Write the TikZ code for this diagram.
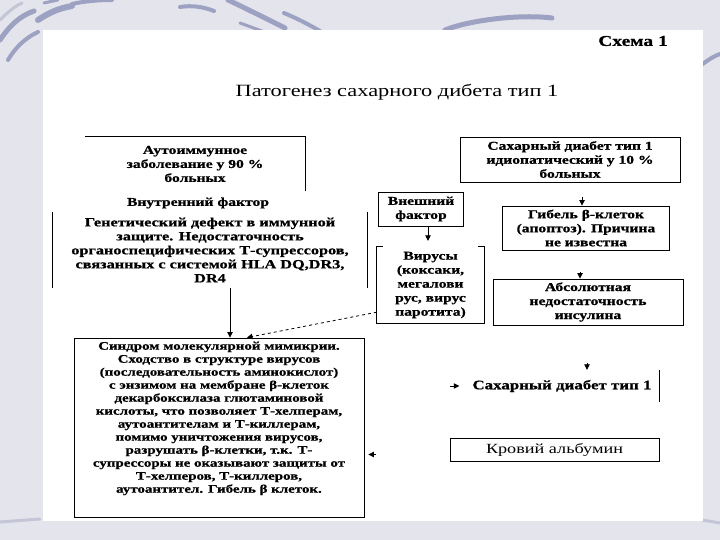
\documentclass[tikz,border=0pt]{standalone}
\usepackage{fontspec}
\newfontfamily\scanfont{Liberation Serif}[FakeStretch=1.3, BoldFeatures={FakeBold=0.8}]
\usetikzlibrary{arrows.meta,calc}
\definecolor{bgc}{HTML}{E4E4EC}
\definecolor{strk}{HTML}{9DA2C2}
\definecolor{strkl}{HTML}{C4C6D8}
\tikzset{
  txt/.style={font=\scanfont\bfseries\fontsize{12}{14}\selectfont, align=center, inner sep=0pt},
  box/.style={draw, line width=0.9pt},
  edge/.style={line width=0.9pt},
  arr/.style={-{Triangle[length=5.5pt,width=5.5pt]}, line width=0.8pt},
}
\begin{document}
\begin{tikzpicture}[x=1pt,y=-1pt]
\useasboundingbox (0,0) rectangle (720,540);
\fill[bgc] (0,0) rectangle (720,540);
\begin{scope}[line cap=round, draw=strk]
\draw[line width=5pt] (0,40) .. controls (10,25) and (20,16) .. (34,11);
\draw[line width=4pt] (8,60) .. controls (15,48) and (25,38) .. (38,32);
\draw[line width=6pt] (38,20) .. controls (50,12) and (60,8) .. (72,6);
\draw[line width=3pt] (44,3) -- (58,0);
\draw[line width=4pt] (72,4) .. controls (85,1) and (100,0) .. (112,0);
\draw[line width=3pt, strkl] (0,20) .. controls (8,12) and (15,6) .. (22,3);
\draw[line width=4pt] (180,7) .. controls (192,5) and (204,7) .. (214,11);
\draw[line width=5pt] (228,0) .. controls (245,8) and (265,18) .. (285,28);
\draw[line width=3pt] (240,23) -- (262,31);
\draw[line width=4pt] (284,13) .. controls (296,18) and (308,24) .. (320,31);
\draw[line width=5pt] (445,30) .. controls (470,20) and (520,14) .. (552,18);
\draw[line width=3pt] (478,38) .. controls (510,34) and (550,33) .. (575,35);
\draw[line width=3pt] (560,39) -- (610,37);
\draw[line width=4pt] (700,66) .. controls (708,60) and (714,56) .. (720,54);
\draw[line width=3pt, strkl] (0,522) -- (40,519);
\draw[line width=3pt, strkl] (702,520) -- (720,523);
\end{scope}
\fill[white] (43,30) rectangle (703,521);

% titles
\node[anchor=east, font=\scanfont\bfseries\fontsize{15}{17}\selectfont, inner sep=0pt] (schema) at (668,41) {Схема 1};
\node[font=\scanfont\fontsize{17.2}{20}\selectfont, inner sep=0pt] (title) at (397,92) {Патогенез сахарного дибета тип 1};

% left column
\node[txt, minimum width=220pt, minimum height=54pt] (auto) at (195,164) {Аутоиммунное\\заболевание у 90 \%\\больных};
\draw[edge] (auto.north west) -- (auto.north east) -- (auto.south east);

\node[txt] (innerf) at (198,203) {Внутренний фактор};
\node[txt, font=\scanfont\bfseries\fontsize{12.5}{14}\selectfont, minimum width=314pt, minimum height=76pt] (gen) at (210,250)
  {Генетический дефект в иммунной\\защите. Недостаточность\\органоспецифических Т-супрессоров,\\связанных с системой HLA DQ,DR3,\\DR4};
\draw[edge] (gen.north west) -- (gen.south west);
\draw[edge] (gen.north east) -- (gen.south east);

\node[box, minimum width=290pt, minimum height=179pt, inner sep=0pt] (synd) at (219,427.5) {};
\node[txt, font=\scanfont\bfseries\fontsize{11.5}{13}\selectfont, anchor=north] (syndt) at ([yshift=-4pt]synd.north)
  {Синдром молекулярной мимикрии.\\Сходство в структуре вирусов\\(последовательность аминокислот)\\с энзимом на мембране β-клеток\\декарбоксилаза глютаминовой\\кислоты, что позволяет Т-хелперам,\\аутоантителам и Т-киллерам,\\помимо уничтожения вирусов,\\разрушать β-клетки, т.к. Т-\\супрессоры не оказывают защиты от\\Т-хелперов, Т-киллеров,\\аутоантител. Гибель β клеток.};

% middle column
\node[txt, box, minimum width=85pt, minimum height=34pt] (ext) at (421,209) {Внешний\\фактор};
\node[txt, minimum width=107pt, minimum height=76pt] (vir) at (430.5,285) {Вирусы\\(коксаки,\\мегалови\\рус, вирус\\паротита)};
\draw[edge] ([xshift=6pt]vir.north west) -- (vir.north west) -- (vir.south west) -- (vir.south east) -- (vir.north east) -- ([xshift=-6pt]vir.north east);

% right column
\node[txt, box, minimum width=220pt, minimum height=45pt] (idio) at (570,159.5) {Сахарный диабет тип 1\\идиопатический у 10 \%\\больных};
\node[txt, box, minimum width=167pt, minimum height=44pt] (gib) at (586,228) {Гибель β-клеток\\(апоптоз). Причина\\не известна};
\node[txt, box, minimum width=190pt, minimum height=46pt] (abs) at (588,302) {Абсолютная\\недостаточность\\инсулина};
\node[txt, font=\scanfont\bfseries\fontsize{13}{15}\selectfont, inner xsep=8pt, minimum height=32pt] (sd1) at (562,386) {Сахарный диабет тип 1};
\draw[edge] (sd1.north east) -- (sd1.south east);
\node[txt, box, font=\scanfont\fontsize{14}{16}\selectfont, minimum width=209pt, minimum height=23pt] (alb) at (554.5,449.5) {Кровий альбумин};

% connectors
\coordinate (g1) at ([xshift=20pt]gen.south);
\draw[arr] (g1) -- (g1 |- synd.north);
\coordinate (v1) at ([yshift=11pt]vir.south west);
\draw[arr, dashed] (v1) -- ([xshift=28pt]synd.north);
\coordinate (e1) at ([xshift=7pt]ext.south);
\draw[arr, shorten >=6pt] (e1) -- (e1 |- vir.north);
\coordinate (i1) at ([xshift=-4pt]gib.north);
\draw[arr, shorten <=15pt] (i1 |- idio.south) -- (i1);
\coordinate (b1) at ([xshift=-6pt]gib.south);
\draw[arr, shorten <=22pt] (b1) -- (b1 |- abs.north);
\coordinate (a1) at ([xshift=-1pt]abs.south);
\draw[arr, shorten <=38pt] (a1) -- (a1 |- sd1.north);
\draw[arr, shorten <=86pt, shorten >=5pt] (synd.east |- sd1.west) -- (sd1.west);
\coordinate (k1) at ([yshift=-5pt]alb.west);
\draw[arr, shorten <=74pt, shorten >=4pt] (k1) -- (k1 -| synd.east);
\end{tikzpicture}
\end{document}
